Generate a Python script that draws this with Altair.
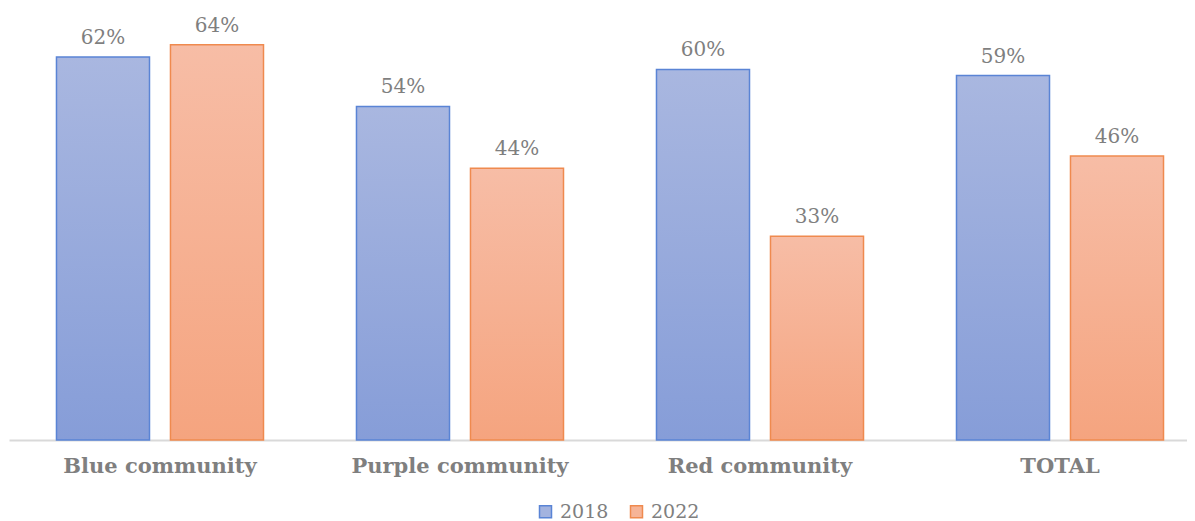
import altair as alt
import pandas as pd

categories = ["Blue community", "Purple community", "Red community", "TOTAL"]
years = ["2018", "2022"]
values_2018 = [0.62, 0.54, 0.60, 0.59]
values_2022 = [0.64, 0.44, 0.33, 0.46]

rows = []
for c, a, b in zip(categories, values_2018, values_2022):
    rows.append({"category": c, "year": "2018", "value": a})
    rows.append({"category": c, "year": "2022", "value": b})
df = pd.DataFrame(rows)

FONT = "Georgia, 'DejaVu Serif', serif"
GRAY = "#7f7f7f"

x = alt.X(
    "category:N",
    sort=categories,
    scale=alt.Scale(paddingInner=0.24, paddingOuter=0.0833, align=0.74, round=False),
    axis=alt.Axis(
        title=None, labelAngle=0, labelFont=FONT, labelFontWeight="bold",
        labelFontSize=21, labelColor=GRAY, labelPadding=15, ticks=False,
        domainColor="#d9d9d9", domainWidth=2, grid=False, labelBaseline="top",
        labelLimit=0,
    ),
)
xo = alt.XOffset(
    "year:N", sort=years,
    scale=alt.Scale(domain=years, paddingInner=0.184, paddingOuter=0.092, round=False),
)
y = alt.Y("value:Q", scale=alt.Scale(domain=[0, 0.68]), axis=None)

blue_grad = alt.LinearGradient(
    gradient="linear",
    stops=[alt.GradientStop(color="#a9b7e0", offset=0),
           alt.GradientStop(color="#869dd8", offset=1)],
    x1=0, x2=0, y1=0, y2=1,
)
orange_grad = alt.LinearGradient(
    gradient="linear",
    stops=[alt.GradientStop(color="#f7bda6", offset=0),
           alt.GradientStop(color="#f5a47f", offset=1)],
    x1=0, x2=0, y1=0, y2=1,
)

base = alt.Chart(df)

legend = alt.Legend(
    orient="none", legendX=527, legendY=482, direction="horizontal", title=None,
    symbolType="square", symbolSize=144, symbolStrokeWidth=1.5,
    labelFont=FONT, labelFontSize=19, labelColor=GRAY, labelOffset=5,
    columnPadding=18, padding=0,
)

legend_pts = base.mark_point(filled=True, shape="square", size=20, strokeWidth=1.5, opacity=1).encode(
    x=x, xOffset=xo, y=alt.Y("value:Q", scale=alt.Scale(domain=[0, 0.68]), axis=None),
    fill=alt.Fill("year:N", scale=alt.Scale(domain=years, range=["#a3b3df", "#f6b497"]), legend=legend),
    stroke=alt.Stroke("year:N", scale=alt.Scale(domain=years, range=["#5a84d5", "#ef8a4f"]), legend=legend),
).transform_calculate(value="0.1")

bars18 = base.transform_filter(alt.datum.year == "2018").mark_bar(
    fill=blue_grad, stroke="#5a84d5", strokeWidth=1.5
).encode(x=x, xOffset=xo, y=y)

bars22 = base.transform_filter(alt.datum.year == "2022").mark_bar(
    fill=orange_grad, stroke="#ef8a4f", strokeWidth=1.5
).encode(x=x, xOffset=xo, y=y)

labels = base.mark_text(
    dy=-13, baseline="alphabetic", font=FONT, fontSize=20, color=GRAY
).encode(x=x, xOffset=xo, y=y, text=alt.Text("value:Q", format=".0%"))

chart = alt.layer(legend_pts, bars18, bars22, labels).properties(
    width=1178, height=420,
    autosize=alt.AutoSizeParams(type="none"),
    padding={"left": 1, "top": 12, "right": 0, "bottom": 90},
).configure_view(stroke=None)

chart.save("out.html", embed_options={"renderer": "svg", "actions": False})
